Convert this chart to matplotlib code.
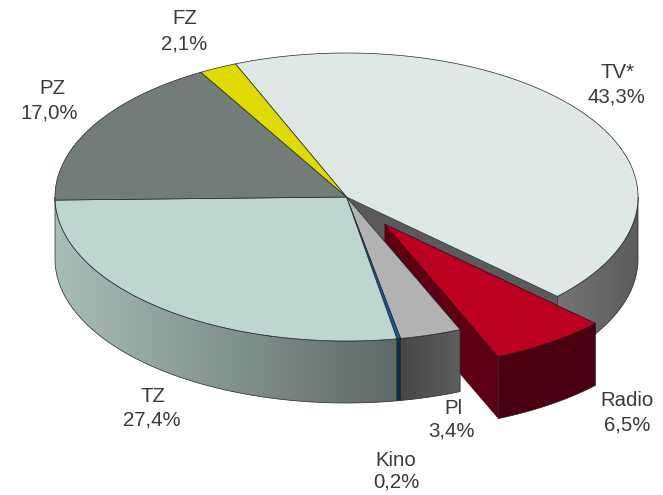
import numpy as np
import matplotlib
matplotlib.use("Agg")
import matplotlib.pyplot as plt
from matplotlib.patches import Polygon

categories = ["TV*", "Radio", "Pl", "Kino", "TZ", "PZ", "FZ"]
shares = [43.3, 6.5, 3.4, 0.2, 27.4, 17.0, 2.1]

top_colors = ["#dee8e6", "#bc0022", "#b2b2b2", "#14589a", "#bdd6d0", "#737d77", "#e0da04"]
side_left = ["#5c5c5c", "#4a0010", "#474747", "#0d2f50", "#a8bdb8", "#737d77", "#e0da04"]
side_right = ["#747474", "#4a0010", "#5e5e5e", "#0d2f50", "#5e6a68", "#737d77", "#e0da04"]
wall_colors = ["#5a5a5a", "#5c0012", "#5a5a5a", "#0d2f50", "#5a5a5a", "#5a5a5a", "#5a5a5a"]
explode = [(0, 0), (38, 27), (0, 0), (0, 0), (0, 0), (0, 0), (0, 0)]

CX, CY, RX, RY, DEPTH = 346.5, 197, 291.5, 144, 62
START = 112.4

name_xy = {"TV*": (618, 72), "Radio": (627, 401), "Pl": (453, 408), "Kino": (396, 460),
           "TZ": (153, 396), "PZ": (52, 88), "FZ": (185, 19)}
value_xy = {"TV*": (616, 97), "Radio": (627, 425), "Pl": (451, 431), "Kino": (396, 482),
            "TZ": (152, 420), "PZ": (49, 113), "FZ": (184, 44)}

plt.rcParams["font.family"] = ["Liberation Sans", "DejaVu Sans"]
fig = plt.figure(figsize=(6.63, 4.95), dpi=100)
ax = fig.add_axes([0, 0, 1, 1])
ax.set_xlim(0, 663)
ax.set_ylim(495, 0)
ax.axis("off")


def rim(a0, a1, ox=0, oy=0, dz=0):
    t = np.radians(np.linspace(a0, a1, max(3, int(abs(a1 - a0) * 2))))
    return np.column_stack([CX + ox + RX * np.cos(t), CY + oy + dz - RY * np.sin(t)])


total = sum(shares)
spans = [s / total * 360 for s in shares]
stops = START - np.cumsum([0] + spans)
edge = dict(edgecolor="#20262a", linewidth=0.5)


def wall(a, ox, oy, color, z):
    p = rim(a, a, ox, oy)[0]
    c = (CX + ox, CY + oy)
    ax.add_patch(Polygon([c, p, (p[0], p[1] + DEPTH), (c[0], c[1] + DEPTH)],
                         closed=True, facecolor=color, zorder=z, linewidth=0))


def side(a0, a1, ox, oy, c0, c1, z):
    # visible outer wall only for the front half of the ellipse
    lo = max(min(a0, a1), -180)
    hi = min(max(a0, a1), 0)
    if hi <= lo:
        return
    up = rim(hi, lo, ox, oy)
    down = rim(lo, hi, ox, oy, DEPTH)
    poly = Polygon(np.vstack([up, down]), closed=True, facecolor="none", zorder=z, **edge)
    ax.add_patch(poly)
    all_pts = np.vstack([up, down])
    x0, x1 = all_pts[:, 0].min(), all_pts[:, 0].max()
    y0, y1 = all_pts[:, 1].min(), all_pts[:, 1].max()
    rgb0, rgb1 = matplotlib.colors.to_rgb(c0), matplotlib.colors.to_rgb(c1)
    f = np.linspace(0, 1, 256)[None, :, None]
    img = np.array(rgb0)[None, None, :] * (1 - f) + np.array(rgb1)[None, None, :] * f
    im = ax.imshow(img, extent=(x0, x1, y1, y0), aspect="auto", zorder=z - 0.1,
                   interpolation="bilinear")
    im.set_clip_path(poly)


# cut wall of the TV wedge exposed by the pulled-out Radio wedge
wall(stops[1], 0, 0, wall_colors[0], 1.2)

# inner wall of the Radio wedge sits behind the Pl wedge
r = 1
a0, a1 = stops[r], stops[r + 1]
ox, oy = explode[r]
wall(a1, ox, oy, wall_colors[r], 1.5)

# outer walls; the TZ wall also closes the tiny remainder up to the left extreme
tz = categories.index("TZ")
for i in [0, 2, 3, 4]:
    a0_i, a1_i = stops[i], stops[i + 1]
    if i == tz:
        a1_i = -180
    side(a0_i, a1_i, 0, 0, side_left[i] if i != 0 else side_right[i],
         side_right[i] if i != 0 else side_left[i], 2 + 0.01 * i)

for i in [0, 2, 3, 4, 5, 6]:
    a0_i, a1_i = stops[i], stops[i + 1]
    pts = np.vstack([[(CX, CY)], rim(a0_i, a1_i)])
    ax.add_patch(Polygon(pts, closed=True, facecolor=top_colors[i], zorder=3,
                         edgecolor="#20262a", linewidth=0.5))

# Radio wedge outer wall and top
side(a0, a1, ox, oy, side_left[r], side_right[r], 4.2)
pts = np.vstack([[(CX + ox, CY + oy)], rim(a0, a1, ox, oy)])
ax.add_patch(Polygon(pts, closed=True, facecolor=top_colors[r], zorder=5,
                     edgecolor="#3a0008", linewidth=0.5))

for name, s in zip(categories, shares):
    ax.text(*name_xy[name], name, ha="center", va="center",
            fontsize=14.7, color="#3a3a3a", zorder=6)
    ax.text(*value_xy[name], f"{s:.1f}%".replace(".", ","), ha="center", va="center",
            fontsize=14.7, color="#3a3a3a", zorder=6)

fig.savefig("out.png", dpi=100)
